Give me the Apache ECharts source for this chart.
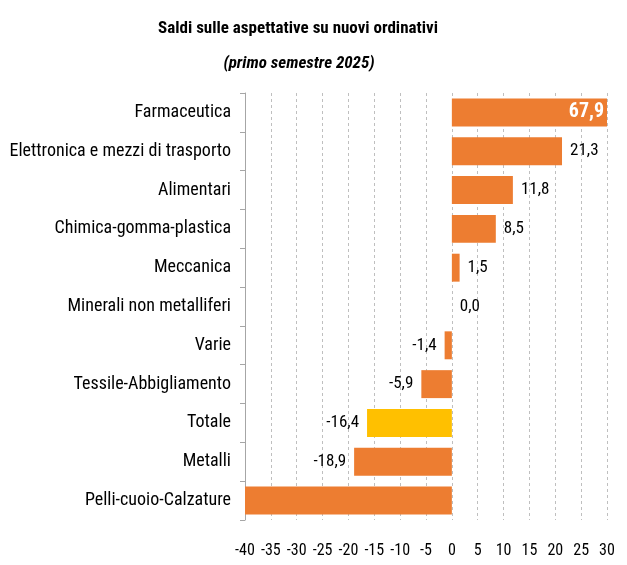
<!DOCTYPE html>
<html>
<head>
<meta charset="utf-8">
<script src="https://cdn.jsdelivr.net/npm/echarts@6/dist/echarts.min.js"></script>
<style>
  html, body { margin: 0; padding: 0; background: #fff; }
  #chart { width: 627px; height: 565px; }
</style>
</head>
<body>
<div id="chart"></div>
<script>
// Sectors, top to bottom
const categories = [
  'Farmaceutica',
  'Elettronica e mezzi di trasporto',
  'Alimentari',
  'Chimica-gomma-plastica',
  'Meccanica',
  'Minerali non metalliferi',
  'Varie',
  'Tessile-Abbigliamento',
  'Totale',
  'Metalli',
  'Pelli-cuoio-Calzature'
];
// Balance of expectations on new orders (first half 2025)
const saldi = [67.9, 21.3, 11.8, 8.5, 1.5, 0.0, -1.4, -5.9, -16.4, -18.9, -45.0];
const totalLabel = 'Totale';
const xTicks = { min: -40, max: 30, step: 5 };

const ORANGE = '#ED7D31';
const YELLOW = '#FFC000';
const FONT = '"Roboto Condensed", "Open Sans Condensed", sans-serif';

const fmt = v => v.toFixed(1).replace('.', ',');

const seriesData = saldi.map((v, i) => {
  const item = {
    value: v,
    itemStyle: { color: categories[i] === totalLabel ? YELLOW : ORANGE }
  };
  if (v > xTicks.max) {
    item.label = { position: 'insideRight', color: '#fff', fontWeight: 'bold', fontSize: 20, distance: 3 };
  } else if (v < xTicks.min) {
    item.label = { show: false };
  } else if (v < 0) {
    item.label = { position: 'left' };
  } else {
    item.label = { position: 'right' };
  }
  return item;
});

const chart = echarts.init(document.getElementById('chart'));
chart.setOption({
  animation: false,
  textStyle: { fontFamily: FONT },
  title: [
    {
      text: 'Saldi sulle aspettative su nuovi ordinativi',
      left: 293, top: 15, textAlign: 'center',
      textStyle: { fontFamily: FONT, fontSize: 17, fontWeight: 'bold', color: '#000' }
    },
    {
      text: '(primo semestre 2025)',
      left: 294, top: 50, textAlign: 'center',
      textStyle: { fontFamily: FONT, fontSize: 17, fontWeight: 'bold', fontStyle: 'italic', color: '#000' }
    }
  ],
  grid: { left: 245, right: 20, top: 93, bottom: 45, containLabel: false },
  xAxis: {
    type: 'value',
    min: xTicks.min, max: xTicks.max, interval: xTicks.step,
    axisLine: { show: false },
    axisTick: { show: false },
    splitLine: { show: true, lineStyle: { color: '#bfbfbf', type: [3, 3], width: 1 } },
    axisLabel: { fontFamily: FONT, fontSize: 16, color: '#000', margin: 23 }
  },
  yAxis: [
    {
      type: 'category', data: categories, inverse: true,
      axisLine: { show: false },
      axisTick: { show: false },
      axisLabel: { fontFamily: FONT, fontSize: 18, color: '#000', margin: 14 }
    },
    {
      type: 'category', data: categories, inverse: true, position: 'left',
      axisLine: { show: true, onZero: true, lineStyle: { color: '#a6a6a6', width: 1 } },
      axisTick: { show: true, length: 5, lineStyle: { color: '#a6a6a6' } },
      axisLabel: { show: false }
    }
  ],
  series: [{
    type: 'bar',
    yAxisIndex: 0,
    data: seriesData,
    barCategoryGap: '28%',
    clip: true,
    z: 1,
    label: {
      show: true,
      fontFamily: FONT,
      fontSize: 17,
      color: '#000',
      distance: 8,
      formatter: p => fmt(p.value)
    }
  }]
});
</script>
</body>
</html>
